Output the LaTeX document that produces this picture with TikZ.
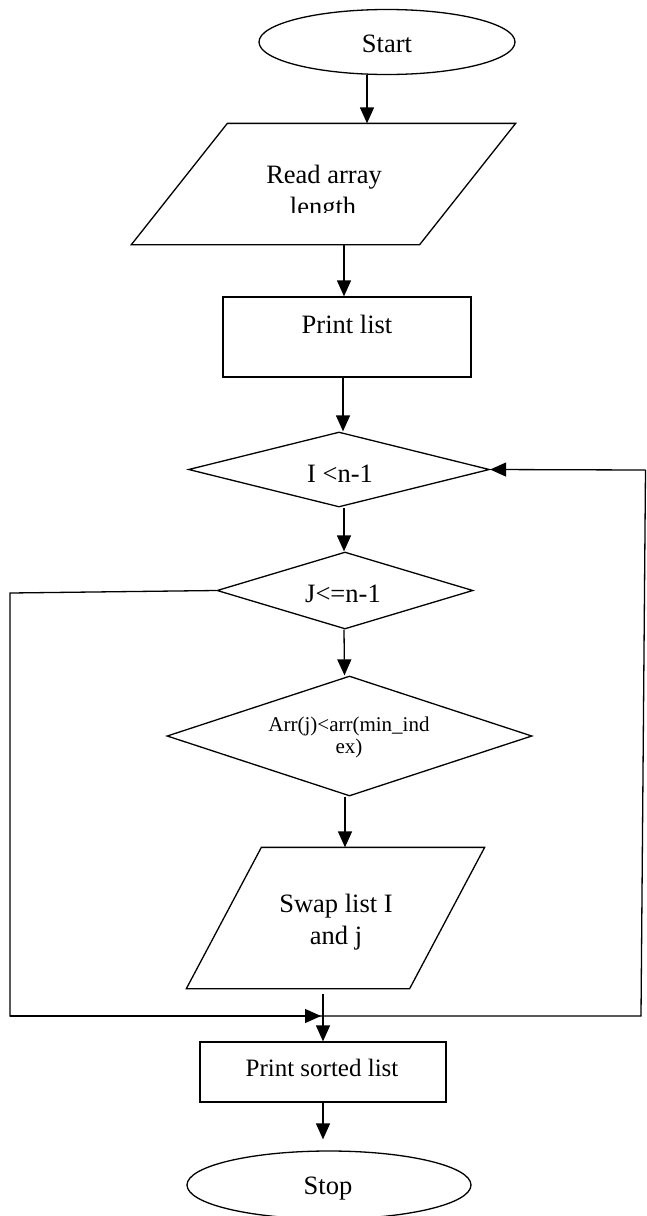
\documentclass[tikz,border=0pt]{standalone}
\usepackage{fontspec}
\setmainfont{Liberation Serif}
\usetikzlibrary{shapes.geometric,arrows.meta,calc}
\begin{document}
\begin{tikzpicture}[x=1pt,y=-1pt,
  line width=1.3pt,
  base/.style={draw=black, line width=1.3pt, inner sep=0pt},
  oval/.style={base, ellipse},
  box/.style={base, rectangle},
  dia/.style={base, diamond},
  pbox/.style={inner sep=0pt, rectangle},
  txt/.style={inner sep=0pt, anchor=base, font=\fontsize{26.5}{32}\selectfont},
  mtxt/.style={inner sep=0pt, anchor=base, font=\fontsize{25}{30}\selectfont},
  stxt/.style={inner sep=0pt, anchor=base, font=\fontsize{21}{25}\selectfont},
  arr/.style={-{Triangle[length=16pt,width=14pt]}},
]
\useasboundingbox (0,0) rectangle (646,1216);
\clip (0,0) rectangle (646,1216);

% shapes
\node[oval, minimum width=256, minimum height=65] (start) at (387,42) {};
\node[pbox, minimum width=383, minimum height=120] (read) at (323.5,184) {};
\draw ([xshift=96]read.north west) -- (read.north east) -- ([xshift=-96]read.south east) -- (read.south west) -- cycle;
\node[box, minimum width=248, minimum height=80] (print) at (347,337) {};
\node[dia, minimum width=301, minimum height=75] (I) at (339,469.5) {};
\node[dia, minimum width=256, minimum height=77] (J) at (345,590.5) {};
\node[dia, minimum width=365, minimum height=120] (Arr) at (349.5,736) {};
\node[pbox, minimum width=297, minimum height=140] (swap) at (335.5,918) {};
\draw ([xshift=75]swap.north west) -- (swap.north east) -- ([xshift=-75]swap.south east) -- (swap.south west) -- cycle;
\node[box, minimum width=246, minimum height=60] (sorted) at (323,1072) {};
\node[oval, minimum width=284, minimum height=68] (stop) at (329,1185) {};

% texts
\node[txt] (startt) at (387,52.7) {Start};
\node[txt] (readt1) at (324,183) {Read array};
\begin{scope}
  \clip (132,124) rectangle (515,212);
  \node[txt] (readt2) at (323,215) {length};
\end{scope}
\node[txt] (printt) at (347,333) {Print list};
\node[txt] (It) at (340,482) {I <n-1};
\node[txt] (Jt) at (343,602) {J<=n-1};
\node[stxt] (Arrt1) at (349,731) {Arr(j)<arr(min\_ind};
\node[stxt] (Arrt2) at (349,753) {ex)};
\node[txt] (swapt1) at (336,912) {Swap list I};
\node[txt] (swapt2) at (336,944) {and j};
\node[mtxt] (sortedt) at (322,1076) {Print sorted list};
\node[txt] (stopt) at (328,1194) {Stop};

% connectors
\draw[arr] ([xshift=-20]start.south) -- ([xshift=43.5]read.north);
\draw[arr] ([xshift=20.5]read.south) -- ([xshift=-3]print.north);
\draw[arr] ([xshift=-4]print.south) -- ([xshift=4]I.north);
\draw[arr] ([xshift=5]I.south) -- ([xshift=-1]J.north);
\draw[arr] ([xshift=-1]J.south) -- ([xshift=-5]Arr.north);
\draw[arr] ([xshift=-4.5]Arr.south) -- ([xshift=9.5]swap.north);
\draw[arr] ([xshift=-12.5,yshift=-5]swap.south) -- (sorted.north);
\draw[arr] (sorted.south) -- ([xshift=-6,yshift=11]stop.north);

\coordinate (bl) at (10,593);
\coordinate (bb) at (10,1016);
\coordinate (bm) at (321,1016);
\coordinate (br) at (641,1016);
\coordinate (tr) at (645.5,470);
\draw (J.west) -- (bl) -- (bb) -- (br) -- (tr);
\draw[arr] (bb) -- (bm);
\draw[arr] (tr) -- (I.east);
\end{tikzpicture}
\end{document}
